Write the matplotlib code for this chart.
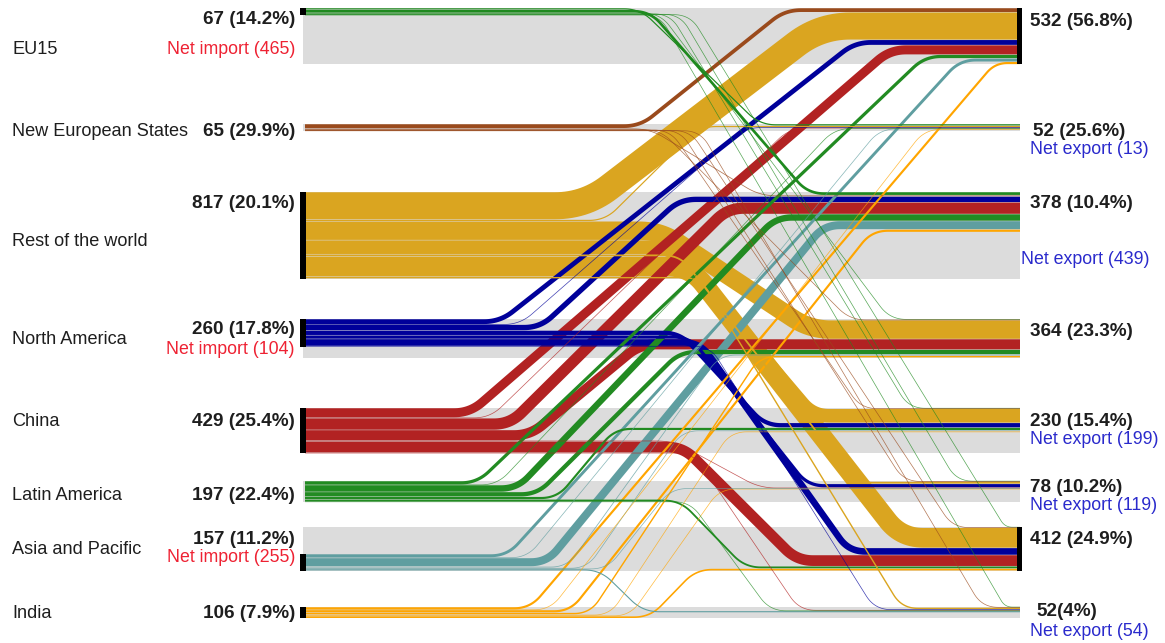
import numpy as np
import matplotlib
matplotlib.use("Agg")
import matplotlib.pyplot as plt
from matplotlib.patches import Rectangle

# ---------------- data ----------------
regions = ["EU15", "New European States", "Rest of the world", "North America",
           "China", "Latin America", "Asia and Pacific", "India"]
exports = [67, 65, 817, 260, 429, 197, 157, 106]
imports = [532, 52, 378, 364, 230, 78, 412, 52]
export_share = ["14.2%", "29.9%", "20.1%", "17.8%", "25.4%", "22.4%", "11.2%", "7.9%"]
import_share = ["56.8%", "25.6%", "10.4%", "23.3%", "15.4%", "10.2%", "24.9%", "4%"]

# flows from each exporter to the importers (importer order = regions)
from_eu15 = [0, 16, 30, 7, 5, 3, 4, 2]
from_nes = [40, 0, 12, 4, 2, 2, 3, 2]
from_row = [260, 16, 0, 178, 133, 22, 190, 18]
from_namerica = [50, 3, 55, 0, 45, 35, 67, 5]
from_china = [90, 6, 111, 100, 0, 8, 106, 8]
from_latam = [35, 3, 65, 45, 25, 0, 22, 2]
from_asia = [32, 5, 80, 12, 10, 3, 0, 15]
from_india = [25, 3, 25, 18, 10, 5, 20, 0]

flows = np.array([from_eu15, from_nes, from_row, from_namerica,
                  from_china, from_latam, from_asia, from_india], dtype=float)

colors = ["#1f8a1f", "#9a4a1c", "#daa520", "#00009a", "#b22222",
          "#228b22", "#5f9ea0", "#ffa500"]

# ---------------- layout (style) ----------------
W, H = 1165, 643
K = 0.106                      # pixels per unit
row_top = [8, 124, 192, 319, 408, 481, 527, 607]
XL, XR = 305, 1020
left_bottom = [False, False, False, False, False, False, True, False]
left_black = [True, False, True, True, True, False, True, True]
right_black = [True, False, False, False, False, False, True, False]

su = [None, 640, 585, 500, 470, 477, 507, 530]   # bend start, flows going up
sd = [640, 650, 660, 680, 673, 680, 600, None]   # bend start, flows going down
ba = [None, 760, 760, 810, 765, 760, 745, 640]   # bend end, flows arriving from above
bb = [785, 700, 680, 640, 600, 650, 650, None]   # bend end, flows arriving from below
st = [35, 45, 48, 40, 48, 48, 52, 60]

n = len(regions)
row_h = [max(e, i) * K for e, i in zip(exports, imports)]

fig = plt.figure(figsize=(W / 100, H / 100), dpi=100)
ax = fig.add_axes([0, 0, 1, 1])
ax.set_xlim(0, W)
ax.set_ylim(H, 0)
ax.axis("off")

# gray row bands
for r in range(n):
    ax.add_patch(Rectangle((303, row_top[r]), XR - 303, row_h[r],
                           facecolor="#dcdcdc", edgecolor="none", zorder=1))

# stack positions
src_y = np.zeros((n, n))
dst_y = np.zeros((n, n))
for i in range(n):
    y = row_top[i] + ((row_h[i] - exports[i] * K) if left_bottom[i] else 0)
    for j in range(n):
        w = flows[i, j] * K
        src_y[i, j] = y + w / 2
        y += w
for j in range(n):
    y = row_top[j]
    for i in range(n):
        w = flows[i, j] * K
        dst_y[i, j] = y + w / 2
        y += w


def rounded(pts, r):
    out = [pts[0]]
    for a in range(1, len(pts) - 1):
        p0, p1, p2 = (np.array(pts[a - 1], float), np.array(pts[a], float),
                      np.array(pts[a + 1], float))
        d1, d2 = p1 - p0, p2 - p1
        l1, l2 = np.hypot(*d1), np.hypot(*d2)
        if l1 < 1e-6 or l2 < 1e-6:
            continue
        rr = min(r, l1 / 2, l2 / 2)
        A = p1 - d1 / l1 * rr
        B = p1 + d2 / l2 * rr
        t = np.linspace(0, 1, 16)[:, None]
        q = (1 - t) ** 2 * A + 2 * (1 - t) * t * p1 + t ** 2 * B
        out.extend(q.tolist())
    out.append(pts[-1])
    return np.array(out)


items = []
for i in range(n):
    up = [j for j in range(n) if j < i and flows[i, j] > 0]
    down = [j for j in range(n) if j > i and flows[i, j] > 0]
    for j in range(n):
        if flows[i, j] <= 0:
            continue
        if j < i:
            xs = su[i] + 20 * up.index(j)
            grp = [s for s in range(n) if s > j and flows[s, j] > 0]
            xe = bb[j] + st[j] * grp.index(i)
        else:
            xs = sd[i] + 10 * down.index(j)
            grp = [s for s in range(n) if s < j and flows[s, j] > 0]
            xe = ba[j] + st[j] * (len(grp) - 1 - grp.index(i))
        y0, y1 = src_y[i, j], dst_y[i, j]
        dy = abs(y1 - y0)
        dmin = 0.55 * dy + 20
        if xe - xs < dmin:
            xe = xs + dmin
        if xe > 1005:
            xs -= xe - 1005
            xe = 1005
        items.append((flows[i, j] * K, i, xs, xe, y0, y1))

items.sort(key=lambda t: -t[0])
for z, (w, i, xs, xe, y0, y1) in enumerate(items):
    pts = [(XL, y0), (xs, y0), (xe, y1), (XR, y1)]
    path = rounded(pts, max(16, 1.1 * w))
    lw = max(w - 0.5, 0.7) * 0.72
    alpha = 1.0 if w >= 1.5 else 0.75
    ax.plot(path[:, 0], path[:, 1], color=colors[i], lw=lw, alpha=alpha,
            solid_capstyle="butt", solid_joinstyle="round", zorder=2 + z * 0.001)

# black end markers
for r in range(n):
    if left_black[r]:
        y = row_top[r] + ((row_h[r] - exports[r] * K) if left_bottom[r] else 0)
        ax.add_patch(Rectangle((300, y), 6, exports[r] * K, facecolor="black",
                               edgecolor="none", zorder=5))
    if right_black[r]:
        ax.add_patch(Rectangle((1017, row_top[r]), 5, imports[r] * K,
                               facecolor="black", edgecolor="none", zorder=5))

# ---------------- text ----------------
FONT = "Liberation Sans"
FS_NAME, FS_VAL, FS_NET = 13.1, 13.6, 12.8
name_y = [49, 131, 241, 340, 422, 495, 549, 613]
lval_y = [19, 131, 204, 329, 422, 495, 539, 613]
lnet_y = [49, None, None, 349, None, None, 558, None]
rval_y = [21, 131, 204, 331, 422, 487, 539, 612]
rnet_y = [None, 149, 259, None, 440, 505, None, 631]
rval_x = [1030, 1033, 1030, 1030, 1030, 1030, 1030, 1036]
rnet_x = [None, 1030, 1021, None, 1030, 1030, None, 1030]

for r in range(n):
    ax.text(12, name_y[r], regions[r], ha="left", va="center", fontsize=FS_NAME,
            family=FONT, color="#1e1e1e")
    ax.text(295, lval_y[r], f"{exports[r]} ({export_share[r]})", ha="right",
            va="center", fontsize=FS_VAL, family=FONT, weight="bold", color="#1e1e1e")
    sep = "" if r == n - 1 else " "
    ax.text(rval_x[r], rval_y[r], f"{imports[r]}{sep}({import_share[r]})",
            ha="left", va="center", fontsize=FS_VAL, family=FONT, weight="bold",
            color="#1e1e1e")
    net = imports[r] - exports[r]
    if net > 0 and lnet_y[r] is not None:
        ax.text(295, lnet_y[r], f"Net import ({net})", ha="right", va="center",
                fontsize=FS_NET, family=FONT, color="#ee2233")
    if net < 0 and rnet_y[r] is not None:
        ax.text(rnet_x[r], rnet_y[r], f"Net export ({-net})", ha="left",
                va="center", fontsize=FS_NET, family=FONT, color="#2a2acc")

fig.savefig("out.png", dpi=100)
